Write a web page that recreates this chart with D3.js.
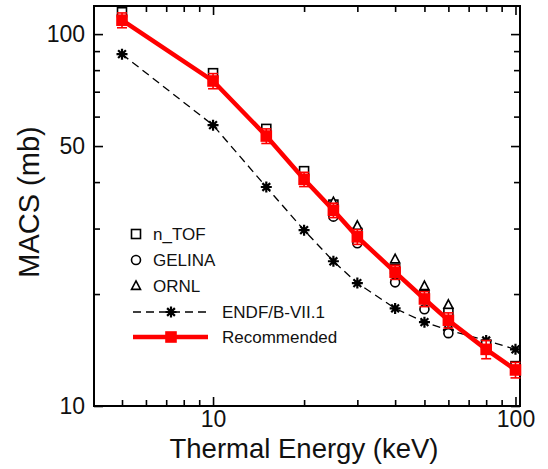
<!DOCTYPE html>
<html>
<head>
<meta charset="utf-8">
<script src="https://cdn.jsdelivr.net/npm/d3@7/dist/d3.min.js"></script>
<style>
  body { margin: 0; background: #fff; }
  svg { display: block; font-family: "Liberation Sans", Arial, sans-serif; }
</style>
</head>
<body>
<svg id="chart" width="548" height="469"></svg>
<script>
// energies (keV) and MACS values (mb)
const energy = [5, 10, 15, 20, 25, 30, 40, 50, 60, 80, 100];
const recommended = [109, 74.8, 53.2, 40.7, 33.6, 28.5, 22.9, 19.4, 17.0, 14.2, 12.5];
const recErr = [5.0, 3.5, 2.4, 1.8, 1.5, 1.3, 1.0, 0.9, 0.8, 0.8, 0.6];
const endf = [88.3, 56.9, 38.8, 29.7, 24.5, 21.4, 18.3, 16.8, 16.0, 15.0, 14.2];
const ntof = [114.5, 78.5, 55.6, 42.8, 34.8, 29.2, 23.4, 19.9, 17.8, 14.6, 12.8];
const gelinaE = [25, 30, 40, 50, 60];
const gelina = [32.3, 27.4, 21.5, 18.2, 15.7];
const ornlE = [25, 30, 40, 50, 60];
const ornl = [35.3, 30.5, 24.8, 21.0, 18.7];

const xMajor = [10, 100];
const xMinor = [5, 6, 7, 8, 9, 20, 30, 40, 50, 60, 70, 80, 90];
const yMajor = [10, 50, 100];
const yMinor = [20, 30, 40, 60, 70, 80, 90];

const legendItems = ['n_TOF', 'GELINA', 'ORNL', 'ENDF/B-VII.1', 'Recommended'];

const svg = d3.select('#chart');
const pLeft = 94, pRight = 520, pTop = 6, pBottom = 406;

const x = d3.scaleLog().domain([4.04, 103.5]).range([pLeft, pRight]);
const y = d3.scaleLog().domain([10, 119]).range([pBottom, pTop]);

const red = '#ff0000';

// ---- axes (ticks pointing inward on all four sides)
function addAxis(axisFn, scale, vals, len, labels, transform) {
  const ax = axisFn(scale).tickValues(vals).tickSizeInner(-len).tickSizeOuter(0)
    .tickPadding(axisFn === d3.axisLeft ? 9 : 5)
    .tickFormat(labels ? d3.format('d') : '');
  const g = svg.append('g').attr('transform', transform).call(ax);
  g.select('.domain').remove();
  g.selectAll('line').attr('stroke', '#000').attr('stroke-width', 1.6);
  g.selectAll('text').attr('font-size', 23).attr('fill', '#111')
    .style('font-family', '"Liberation Sans", Arial, sans-serif');
  return g;
}
addAxis(d3.axisBottom, x, xMajor, 9, true, `translate(0,${pBottom})`);
addAxis(d3.axisBottom, x, xMinor, 6, false, `translate(0,${pBottom})`);
addAxis(d3.axisTop, x, xMajor, 9, false, `translate(0,${pTop})`);
addAxis(d3.axisTop, x, xMinor, 6, false, `translate(0,${pTop})`);
addAxis(d3.axisLeft, y, yMajor, 9, true, `translate(${pLeft},0)`);
addAxis(d3.axisLeft, y, yMinor, 6, false, `translate(${pLeft},0)`);
addAxis(d3.axisRight, y, yMajor, 9, false, `translate(${pRight},0)`);
addAxis(d3.axisRight, y, yMinor, 6, false, `translate(${pRight},0)`);

svg.append('rect')
  .attr('x', pLeft).attr('y', pTop)
  .attr('width', pRight - pLeft).attr('height', pBottom - pTop)
  .attr('fill', 'none').attr('stroke', '#000').attr('stroke-width', 2);

svg.append('text')
  .attr('x', (pLeft + pRight) / 2 - 3).attr('y', 458)
  .attr('text-anchor', 'middle').attr('font-size', 27.5).attr('fill', '#111')
  .text('Thermal Energy (keV)');

svg.append('text')
  .attr('transform', 'translate(29,202) rotate(-90)')
  .attr('text-anchor', 'middle').attr('dominant-baseline', 'central')
  .attr('font-size', 29).attr('fill', '#111')
  .text('MACS (mb)');

// ---- marker helpers
function square(g, cx, cy, s, fill, stroke) {
  g.append('rect').attr('x', cx - s / 2).attr('y', cy - s / 2)
    .attr('width', s).attr('height', s)
    .attr('fill', fill).attr('stroke', stroke).attr('stroke-width', 1.6);
}
function circle(g, cx, cy, r) {
  g.append('circle').attr('cx', cx).attr('cy', cy).attr('r', r)
    .attr('fill', '#fff').attr('stroke', '#000').attr('stroke-width', 1.6);
}
function triangle(g, cx, cy, s) {
  const h = s * 0.95;
  g.append('path')
    .attr('d', `M${cx},${cy - h * 0.6}L${cx + s / 2},${cy + h * 0.4}L${cx - s / 2},${cy + h * 0.4}Z`)
    .attr('fill', '#fff').attr('stroke', '#000').attr('stroke-width', 1.6);
}
function star(g, cx, cy, s) {
  const r = s / 2;
  const d = [0, 45, 90, 135].map(a => {
    const t = a * Math.PI / 180;
    return `M${cx - r * Math.cos(t)},${cy - r * Math.sin(t)}L${cx + r * Math.cos(t)},${cy + r * Math.sin(t)}`;
  }).join('');
  g.append('path').attr('d', d).attr('stroke', '#000').attr('stroke-width', 2.2).attr('fill', 'none');
}

const line = d3.line().x(d => x(d[0])).y(d => y(d[1]));

// ---- ENDF/B-VII.1
const endfG = svg.append('g');
endfG.append('path')
  .datum(energy.map((e, i) => [e, endf[i]]))
  .attr('d', line)
  .attr('fill', 'none').attr('stroke', '#000').attr('stroke-width', 1.3)
  .attr('stroke-dasharray', '8,5');
energy.forEach((e, i) => star(endfG, x(e), y(endf[i]), 11));

// ---- measurements
const measG = svg.append('g');
energy.forEach((e, i) => square(measG, x(e), y(ntof[i]), 9, '#fff', '#000'));
gelinaE.forEach((e, i) => circle(measG, x(e), y(gelina[i]), 4.5));
ornlE.forEach((e, i) => triangle(measG, x(e), y(ornl[i]), 9));

// ---- recommended
const recG = svg.append('g');
recG.append('path')
  .datum(energy.map((e, i) => [e, recommended[i]]))
  .attr('d', line)
  .attr('fill', 'none').attr('stroke', red).attr('stroke-width', 4.5);
energy.forEach((e, i) => {
  const cx = x(e), y0 = y(recommended[i] - recErr[i]), y1 = y(recommended[i] + recErr[i]);
  recG.append('line').attr('x1', cx).attr('x2', cx).attr('y1', y0).attr('y2', y1)
    .attr('stroke', red).attr('stroke-width', 1.6);
  [y0, y1].forEach(yy => recG.append('line')
    .attr('x1', cx - 5).attr('x2', cx + 5).attr('y1', yy).attr('y2', yy)
    .attr('stroke', red).attr('stroke-width', 1.6));
  square(recG, cx, y(recommended[i]), 10, red, red);
});

// ---- legend
const leg = svg.append('g');
const legY = [234, 260, 286, 312, 337];
square(leg, 136, legY[0], 9, '#fff', '#000');
circle(leg, 136, legY[1], 4.5);
triangle(leg, 136, legY[2], 9);
leg.append('line').attr('x1', 133).attr('x2', 208).attr('y1', legY[3]).attr('y2', legY[3])
  .attr('stroke', '#000').attr('stroke-width', 1.3).attr('stroke-dasharray', '8,5');
star(leg, 171, legY[3], 11);
leg.append('line').attr('x1', 133).attr('x2', 208).attr('y1', legY[4]).attr('y2', legY[4])
  .attr('stroke', red).attr('stroke-width', 4.5);
square(leg, 171, legY[4], 10, red, red);
legendItems.forEach((t, i) => {
  leg.append('text')
    .attr('x', i < 3 ? 153 : 222).attr('y', legY[i])
    .attr('dominant-baseline', 'central')
    .attr('font-size', 17).attr('fill', '#111')
    .text(t);
});
</script>
</body>
</html>
